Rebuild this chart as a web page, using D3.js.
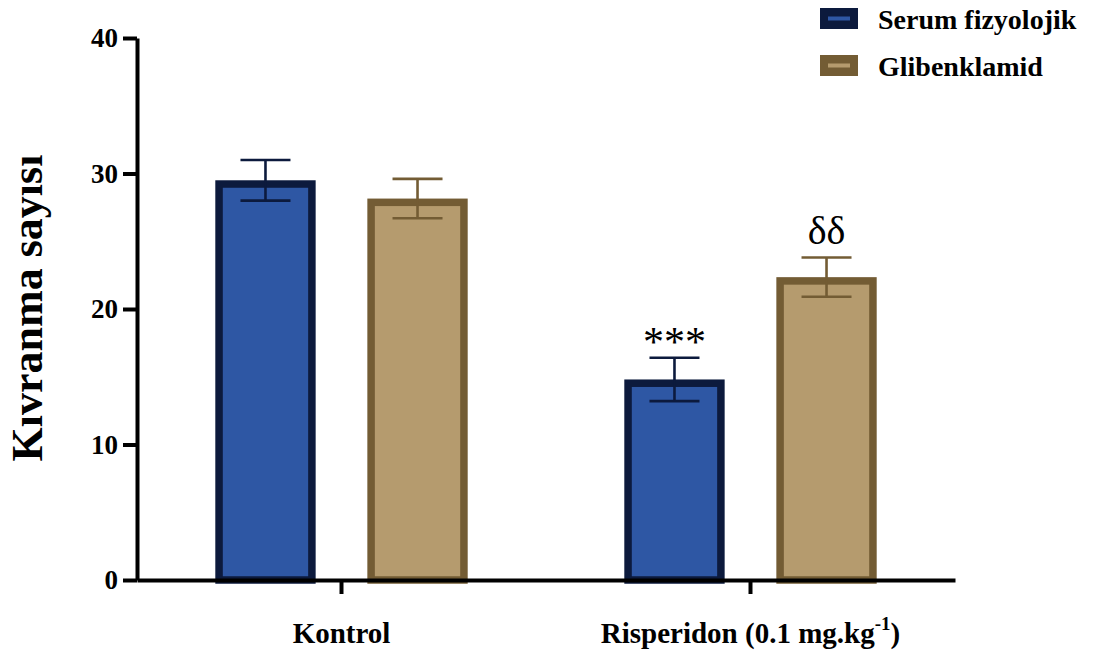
<!DOCTYPE html>
<html lang="tr">
<head>
    <meta charset="UTF-8">
    <title>Kıvranma sayısı</title>
    <script src="https://d3js.org/d3.v7.min.js"></script>
    <style>
        body { margin: 0; background: #fff; }
        svg text { font-family: "Liberation Serif", "Times New Roman", serif; }
    </style>
</head>
<body>
<svg width="1099" height="657"></svg>
<script>
    // data
    var groups = ["Kontrol", "Risperidon"];
    var series = ["Serum fizyolojik", "Glibenklamid"];
    var serumMeans = [29.5, 14.8];
    var serumSem = [1.5, 1.6];
    var glibMeans = [28.15, 22.35];
    var glibSem = [1.45, 1.45];
    var yTicks = [0, 10, 20, 30, 40];
    var signif = [
        { group: "Risperidon", series: "Serum fizyolojik", text: "***" },
        { group: "Risperidon", series: "Glibenklamid", text: "δδ" }
    ];

    var fills = { "Serum fizyolojik": "#2e57a4", "Glibenklamid": "#b59b6e" };
    var edges = { "Serum fizyolojik": "#0c1a3d", "Glibenklamid": "#735c34" };

    var svg = d3.select("svg");
    // note: "top" is taken by window.top, so use plot* names
    var plotLeft = 137, plotRight = 955, plotTop = 38, plotBottom = 580;

    var y = d3.scaleLinear().domain([0, 40]).range([plotBottom, plotTop]);
    var x0 = d3.scaleBand().domain(groups).range([plotLeft, plotRight]);
    var x1 = d3.scaleBand().domain(series).range([0, x0.bandwidth()])
        .paddingInner(0.34).paddingOuter(0.515);

    var rows = [];
    groups.forEach(function (g, i) {
        rows.push({ group: g, series: series[0], mean: serumMeans[i], sem: serumSem[i] });
        rows.push({ group: g, series: series[1], mean: glibMeans[i], sem: glibSem[i] });
    });

    // bars, border drawn inside the bar
    var sw = 7.5;
    svg.selectAll("rect.bar")
        .data(rows)
        .enter()
        .append("rect")
        .attr("class", "bar")
        .attr("x", function (d) { return x0(d.group) + x1(d.series) + sw / 2; })
        .attr("y", function (d) { return y(d.mean) + sw / 2; })
        .attr("width", x1.bandwidth() - sw)
        .attr("height", function (d) { return y(0) - y(d.mean) - sw / 2; })
        .attr("fill", function (d) { return fills[d.series]; })
        .attr("stroke", function (d) { return edges[d.series]; })
        .attr("stroke-width", sw);

    // error bars
    var cap = 25;
    var eb = svg.selectAll("g.err")
        .data(rows)
        .enter()
        .append("g")
        .attr("class", "err")
        .attr("stroke", function (d) { return edges[d.series]; })
        .attr("stroke-width", 2.6)
        .attr("transform", function (d) {
            return "translate(" + (x0(d.group) + x1(d.series) + x1.bandwidth() / 2) + ",0)";
        });
    eb.append("line")
        .attr("y1", function (d) { return y(d.mean + d.sem); })
        .attr("y2", function (d) { return y(d.mean - d.sem); });
    eb.append("line")
        .attr("x1", -cap).attr("x2", cap)
        .attr("y1", function (d) { return y(d.mean + d.sem); })
        .attr("y2", function (d) { return y(d.mean + d.sem); });
    eb.append("line")
        .attr("x1", -cap).attr("x2", cap)
        .attr("y1", function (d) { return y(d.mean - d.sem); })
        .attr("y2", function (d) { return y(d.mean - d.sem); });

    // axes
    var yAxis = svg.append("g")
        .attr("transform", "translate(" + plotLeft + ",0)")
        .call(d3.axisLeft(y).tickValues(yTicks).tickSize(14).tickSizeOuter(0).tickPadding(5));
    var xAxis = svg.append("g")
        .attr("transform", "translate(0," + plotBottom + ")")
        .call(d3.axisBottom(x0).tickSize(14).tickSizeOuter(0).tickFormat(""));
    svg.selectAll(".domain, .tick line")
        .attr("stroke", "#000")
        .attr("stroke-width", 4);
    yAxis.selectAll(".tick text")
        .attr("font-family", "Liberation Serif, serif")
        .attr("font-size", 27)
        .attr("font-weight", "bold")
        .attr("fill", "#000");

    // x labels
    var xl = svg.selectAll("text.xl")
        .data(groups)
        .enter()
        .append("text")
        .attr("class", "xl")
        .attr("x", function (d) { return x0(d) + x0.bandwidth() / 2; })
        .attr("y", 643)
        .attr("text-anchor", "middle")
        .attr("font-size", 29)
        .attr("font-weight", "bold");
    xl.filter(function (d) { return d === "Kontrol"; }).text("Kontrol");
    var ris = xl.filter(function (d) { return d === "Risperidon"; });
    ris.append("tspan").text("Risperidon (0.1 mg.kg");
    ris.append("tspan").attr("dy", -13).attr("font-size", 19).text("-1");
    ris.append("tspan").attr("dy", 13).text(")");

    // y title
    svg.append("text")
        .attr("transform", "translate(42,308) rotate(-90)")
        .attr("text-anchor", "middle")
        .attr("font-size", 44)
        .attr("font-weight", "bold")
        .text("Kıvranma sayısı");

    // significance marks
    svg.selectAll("text.sig")
        .data(signif)
        .enter()
        .append("text")
        .attr("class", "sig")
        .attr("x", function (d) { return x0(d.group) + x1(d.series) + x1.bandwidth() / 2; })
        .attr("y", function (d) {
            var r = rows.find(function (e) { return e.group === d.group && e.series === d.series; });
            return y(r.mean + r.sem) - (d.text === "***" ? 2 : 14);
        })
        .attr("text-anchor", "middle")
        .attr("font-family", function (d) { return d.text === "***" ? "Liberation Sans, sans-serif" : "Liberation Serif, serif"; })
        .attr("font-size", function (d) { return d.text === "***" ? 42 : 40; })
        .attr("letter-spacing", function (d) { return d.text === "***" ? 0 : 0; })
        .text(function (d) { return d.text; });

    // legend
    var lg = svg.selectAll("g.lg")
        .data(series)
        .enter()
        .append("g")
        .attr("class", "lg")
        .attr("transform", function (d, i) { return "translate(820," + (8 + i * 47) + ")"; });
    lg.append("rect")
        .attr("width", 38).attr("height", 21)
        .attr("fill", function (d) { return edges[d]; });
    lg.append("rect")
        .attr("x", 8).attr("y", 8.5).attr("width", 22).attr("height", 4)
        .attr("fill", function (d) { return fills[d]; });
    lg.append("text")
        .attr("x", 58).attr("y", 21)
        .attr("font-size", 28)
        .attr("font-weight", "bold")
        .text(function (d) { return d; });
</script>
</body>
</html>
